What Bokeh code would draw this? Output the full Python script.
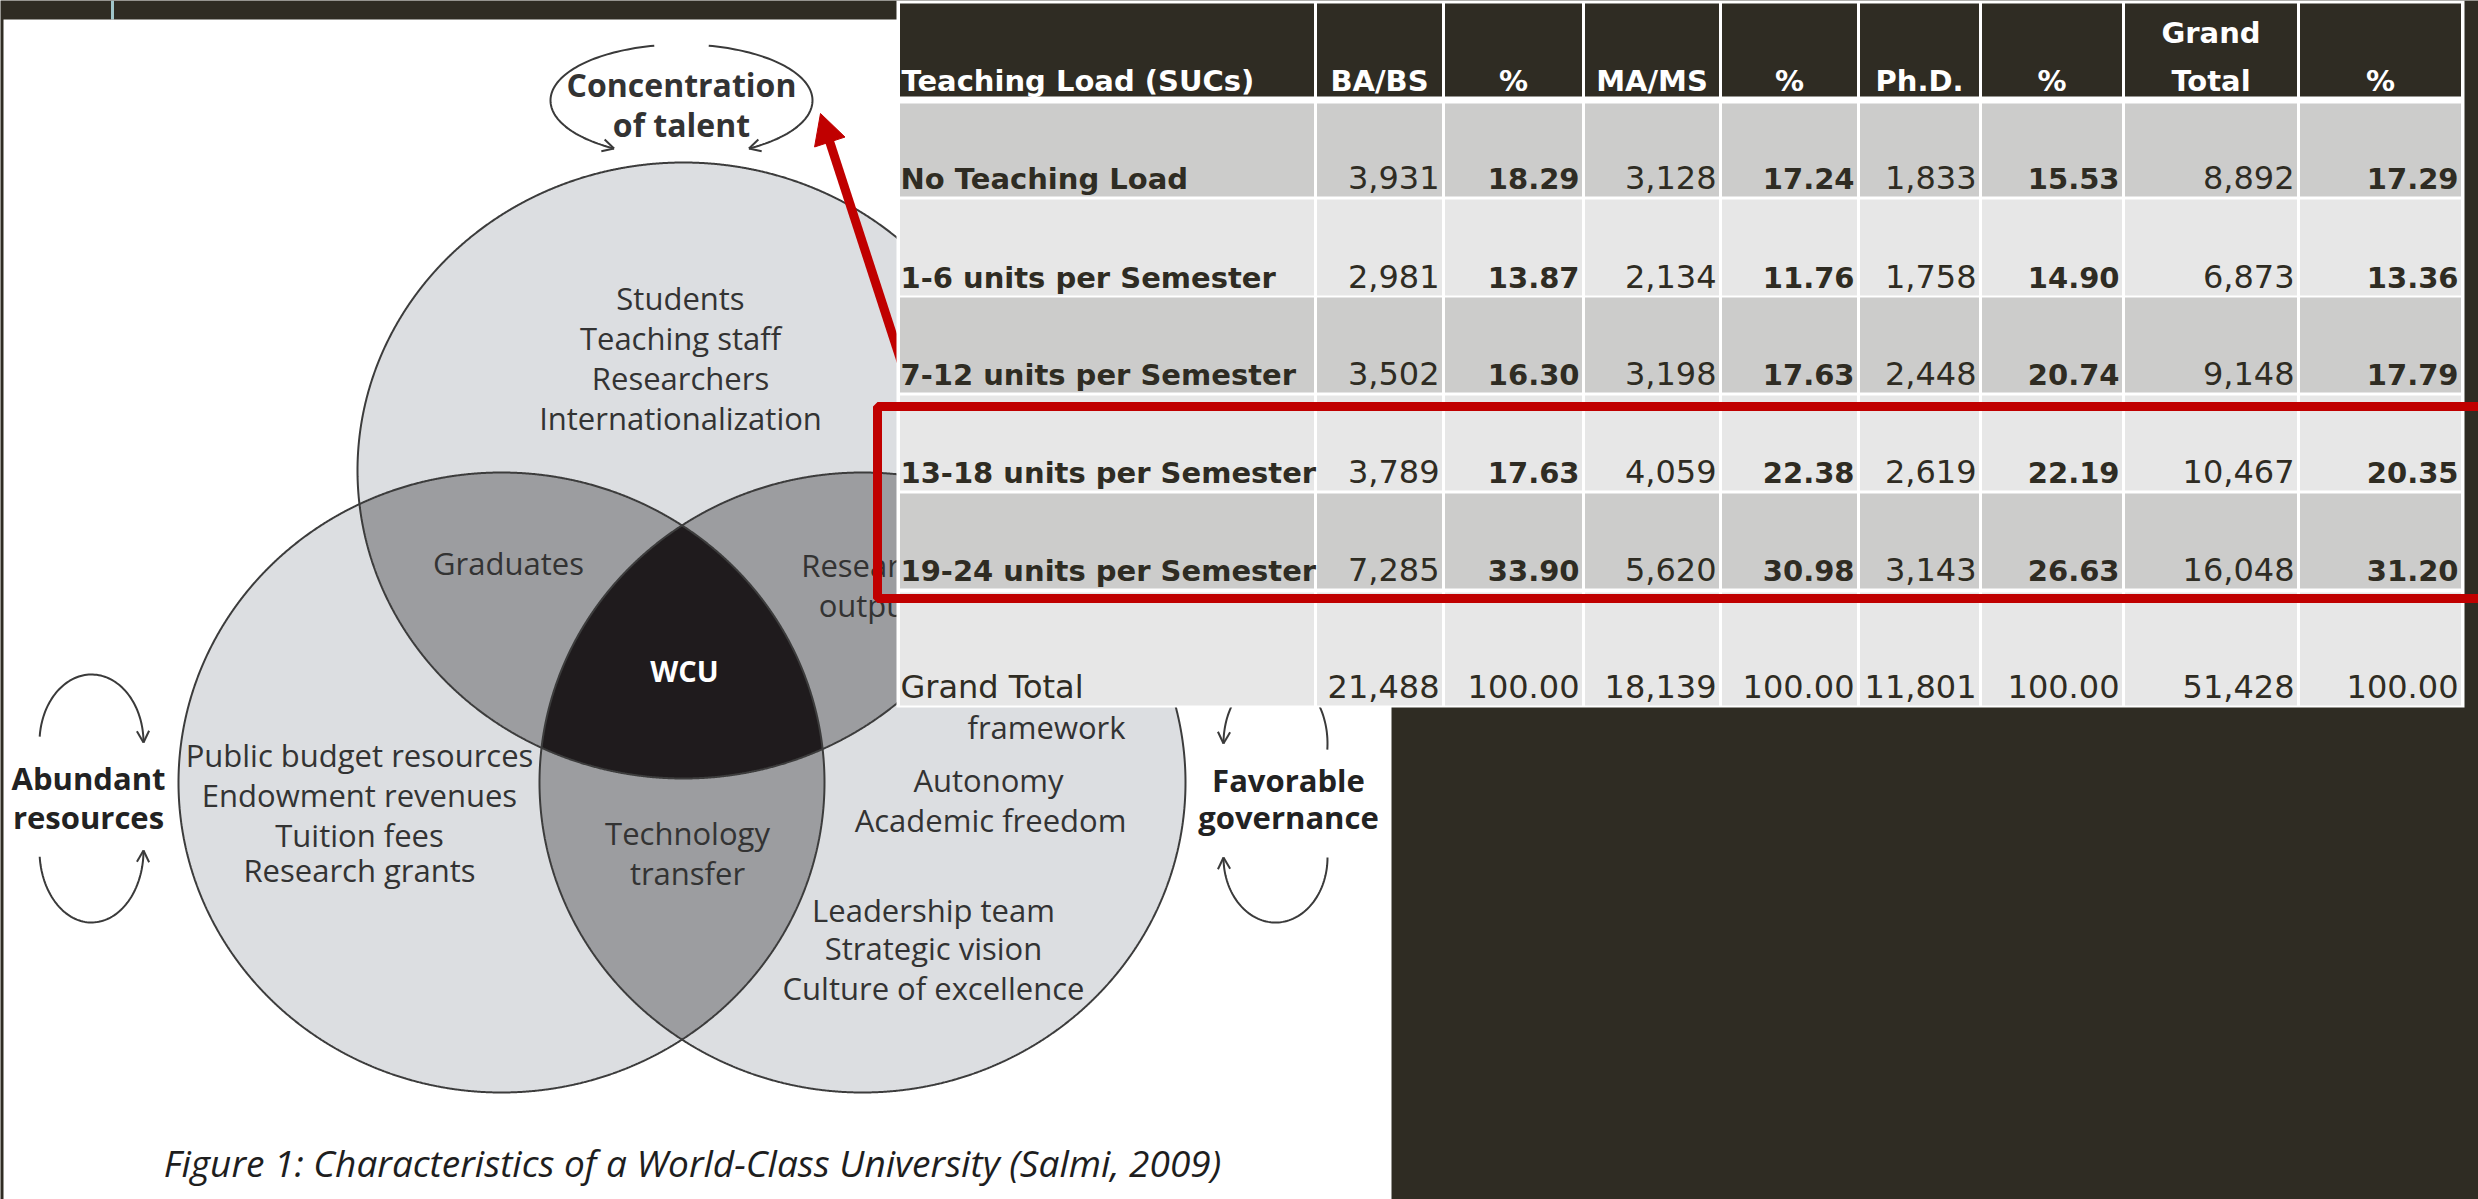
import numpy as np
from bokeh.plotting import figure
from bokeh.models import Range1d, ColumnDataSource
from bokeh.core.properties import value
from bokeh.embed import file_html
from bokeh.resources import INLINE

# ---------------- data (table) ----------------
row_labels = ["No Teaching Load", "1-6 units per Semester", "7-12 units per Semester",
              "13-18 units per Semester", "19-24 units per Semester", "Grand Total"]
col_headers = ["Teaching Load (SUCs)", "BA/BS", "%", "MA/MS", "%", "Ph.D.", "%", "Grand Total", "%"]
ba_bs = [3931, 2981, 3502, 3789, 7285, 21488]
ba_bs_pct = [18.29, 13.87, 16.30, 17.63, 33.90, 100.00]
ma_ms = [3128, 2134, 3198, 4059, 5620, 18139]
ma_ms_pct = [17.24, 11.76, 17.63, 22.38, 30.98, 100.00]
phd = [1833, 1758, 2448, 2619, 3143, 11801]
phd_pct = [15.53, 14.90, 20.74, 22.19, 26.63, 100.00]
grand_total = [8892, 6873, 9148, 10467, 16048, 51428]
grand_total_pct = [17.29, 13.36, 17.79, 20.35, 31.20, 100.00]

# ---------------- diagram texts ----------------
venn_title = ["Concentration", "of talent"]
top_circle_text = ["Students", "Teaching staff", "Researchers", "Internationalization"]
left_circle_text = ["Public budget resources", "Endowment revenues", "Tuition fees", "Research grants"]
right_circle_mid = ["framework", "Autonomy", "Academic freedom"]
right_circle_low = ["Leadership team", "Strategic vision", "Culture of excellence"]
caption = "Figure 1: Characteristics of a World-Class University (Salmi, 2009)"

BG = "#2f2c23"
RED = "#c00000"
LIGHT = "#dcdee1"
MID = "#9c9da0"
CORE = "#1f1b1d"
TXT = "#333333"
TBL_TXT = "#2f2c23"
SHIFT = 0.34  # baseline correction (fraction of font size)

p = figure(width=2478, height=1199, x_range=Range1d(0, 2478), y_range=Range1d(1199, 0),
           output_backend="svg", toolbar_location=None, x_axis_location=None,
           y_axis_location=None, min_border=0, background_fill_color=BG,
           border_fill_color=BG, outline_line_color=None)
p.grid.grid_line_color = None

# slide strip decoration + white picture panel
p.line([112, 112], [0, 19], line_color="#9fc5c9", line_width=3)
p.quad(left=[3], right=[1391], top=[19], bottom=[1199], fill_color="white", line_color=None)

# ---------------- Venn diagram ----------------
ells = {"A": (683, 470, 326, 308), "B": (501, 782, 323, 310), "C": (862, 782, 323, 310)}

def ell_pts(e, n=2400):
    cx, cy, rx, ry = e
    t = np.linspace(0, 2 * np.pi, n, endpoint=False)
    return cx + rx * np.cos(t), cy + ry * np.sin(t)

def inside(x, y, e):
    cx, cy, rx, ry = e
    return ((x - cx) / rx) ** 2 + ((y - cy) / ry) ** 2 <= 1.000001

def intersection(es):
    xs, ys = [], []
    for i, e in enumerate(es):
        x, y = ell_pts(e)
        m = np.ones_like(x, dtype=bool)
        for j, f in enumerate(es):
            if j != i:
                m &= inside(x, y, f)
        xs.append(x[m]); ys.append(y[m])
    x = np.concatenate(xs); y = np.concatenate(ys)
    cx, cy = x.mean(), y.mean()
    o = np.argsort(np.arctan2(y - cy, x - cx))
    return list(x[o]), list(y[o])

full = [ell_pts(ells[k]) for k in "ABC"]
p.patches(xs=[list(f[0]) for f in full], ys=[list(f[1]) for f in full],
          fill_color=LIGHT, line_color=None)
pairs = [intersection([ells[a], ells[b]]) for a, b in ("AB", "AC", "BC")]
p.patches(xs=[q[0] for q in pairs], ys=[q[1] for q in pairs], fill_color=MID, line_color=None)
core = intersection([ells["A"], ells["B"], ells["C"]])
p.patch(core[0], core[1], fill_color=CORE, line_color=None)
p.multi_line(xs=[list(f[0]) + [f[0][0]] for f in full], ys=[list(f[1]) + [f[1][0]] for f in full],
             line_color="#3c3c3c", line_width=2)

# curved arrows
def arc(cx, cy, rx, ry, t0, t1, n=80):
    t = np.radians(np.linspace(t0, t1, n))
    return list(cx + rx * np.cos(t)), list(cy + ry * np.sin(t))

def head(x, y, size=13, spread=28):
    dx, dy = x[-1] - x[-4], y[-1] - y[-4]
    ang = np.arctan2(dy, dx)
    hx, hy = [], []
    for s in (-1, 1):
        a = ang + np.pi + s * np.radians(spread)
        hx.append([x[-1], x[-1] + size * np.cos(a)])
        hy.append([y[-1], y[-1] + size * np.sin(a)])
    return hx, hy

loops = [
    arc(681, 100, 131, 56, -102, -239),
    arc(681, 100, 131, 56, -78, 59),
    arc(91, 742, 52, 68, 185, 360),
    arc(91, 850, 52, 72, 175, 0),
    arc(1275, 743, 52, 70, 5, -180),
    arc(1275, 857, 52, 65, 0, 180),
]
ax, ay = [], []
for lx, ly in loops:
    ax.append(lx); ay.append(ly)
    hx, hy = head(lx, ly)
    ax += hx; ay += hy
p.multi_line(xs=ax, ys=ay, line_color="#3a3a3a", line_width=2)

OS = value("Open Sans")

def txt(x, y, s, size, color=TXT, style="normal", align="center", font=OS):
    yy = [v - SHIFT * size for v in y]
    p.text(x=x, y=yy, text=s, text_font=font, text_font_size=f"{size}px",
           text_color=color, text_font_style=style, text_align=align,
           text_baseline="alphabetic")

txt([681, 681], [95, 135], venn_title, 32, style="bold")
txt([680] * 4, [308, 348, 388, 428], top_circle_text, 31)
txt([508], [573], ["Graduates"], 31)
txt([867, 867], [575, 615], ["Research", "output"], 31)
txt([684], [680], ["WCU"], 29, color="white", style="bold")
txt([359] * 4, [765, 805, 845, 880], left_circle_text, 31)
txt([687, 687], [843, 883], ["Technology", "transfer"], 31)
txt([1046, 988, 990], [737, 790, 830], right_circle_mid, 31)
txt([933] * 3, [920, 958, 998], right_circle_low, 31)
txt([88, 88], [788, 827], ["Abundant", "resources"], 31, color="#222222", style="bold")
txt([1288, 1288], [790, 827], ["Favorable", "governance"], 31, color="#222222", style="bold")
txt([692], [1175], [caption], 37, color="#1e1e1e", style="italic")

# red arrow towards the diagram
sx, sy, tx, ty = 902, 365, 820, 113
d = np.array([tx - sx, ty - sy], float); d /= np.linalg.norm(d)
nrm = np.array([-d[1], d[0]])
L, W = 30, 16
base = np.array([tx, ty]) - L * d
p.line([sx, base[0] + 2 * d[0]], [sy, base[1] + 2 * d[1]], line_color=RED, line_width=9)
p.patch([tx, base[0] + W * nrm[0], base[0] - W * nrm[0]],
        [ty, base[1] + W * nrm[1], base[1] - W * nrm[1]], fill_color=RED, line_color=RED)

# ---------------- table ----------------
col_edges = [898, 1315, 1443, 1583, 1720, 1858, 1980, 2123, 2298, 2462]
row_edges = [(0, 96), (103, 196), (199, 295), (297, 392), (395, 490), (493, 588), (592, 705)]
row_fill = [BG, "#cccccb", "#e7e7e7", "#cccccb", "#e7e7e7", "#cccccb", "#e7e7e7"]

p.quad(left=[896], right=[2464], top=[0], bottom=[707], fill_color="white", line_color=None)
cl, cr, ct, cb, cf = [], [], [], [], []
for r, (t, b) in enumerate(row_edges):
    for c in range(len(col_edges) - 1):
        cl.append(col_edges[c] + 1.5); cr.append(col_edges[c + 1] - 1.5)
        ct.append(t if r else 3); cb.append(b); cf.append(row_fill[r])
p.quad(left=cl, right=cr, top=ct, bottom=cb, fill_color=cf, line_color=None)

DV = value("DejaVu Sans")
BOLD_SZ, NORM_SZ = 29, 32
# header
hx, hy, ht, ha = [], [], [], []
for c, h in enumerate(col_headers):
    if c == 0:
        hx.append(901); hy.append(90); ht.append(h); ha.append("left")
    elif h == "Grand Total":
        mid = (col_edges[c] + col_edges[c + 1]) / 2
        for part, yy in zip(h.split(" "), (42, 90)):
            hx.append(mid); hy.append(yy); ht.append(part); ha.append("center")
    else:
        hx.append((col_edges[c] + col_edges[c + 1]) / 2); hy.append(90); ht.append(h); ha.append("center")
hy = [v - SHIFT * BOLD_SZ for v in hy]
p.text(x="x", y="y", text="t", text_align="a", source=ColumnDataSource(dict(x=hx, y=hy, t=ht, a=ha)),
       text_font=DV, text_font_size=f"{BOLD_SZ}px", text_font_style="bold", text_color="white",
       text_baseline="alphabetic")

series = [ba_bs, ba_bs_pct, ma_ms, ma_ms_pct, phd, phd_pct, grand_total, grand_total_pct]
bold = dict(x=[], y=[], t=[], a=[])
norm = dict(x=[], y=[], t=[], a=[])
for r, lab in enumerate(row_labels):
    base_y = row_edges[r + 1][1] - 8
    last = r == len(row_labels) - 1
    tgt = norm if last else bold
    tgt["x"].append(900); tgt["y"].append(base_y); tgt["t"].append(lab); tgt["a"].append("left")
    for c, ser in enumerate(series):
        v = ser[r]
        is_pct = c % 2 == 1
        s = f"{v:.2f}" if is_pct else f"{v:,}"
        tgt = bold if (is_pct and not last) else norm
        tgt["x"].append(col_edges[c + 2] - 4); tgt["y"].append(base_y); tgt["t"].append(s); tgt["a"].append("right")
bold["y"] = [v - SHIFT * BOLD_SZ for v in bold["y"]]
norm["y"] = [v - SHIFT * NORM_SZ for v in norm["y"]]
p.text(x="x", y="y", text="t", text_align="a", source=ColumnDataSource(bold),
       text_font=DV, text_font_size=f"{BOLD_SZ}px", text_font_style="bold", text_color=TBL_TXT,
       text_baseline="alphabetic")
p.text(x="x", y="y", text="t", text_align="a", source=ColumnDataSource(norm),
       text_font=DV, text_font_size=f"{NORM_SZ}px", text_color=TBL_TXT, text_baseline="alphabetic")

# red highlight box
p.quad(left=[877], right=[2500], top=[406], bottom=[598], fill_color=None,
       line_color=RED, line_width=9)

open("out.html", "w").write(file_html(p, INLINE, title="Teaching load"))
